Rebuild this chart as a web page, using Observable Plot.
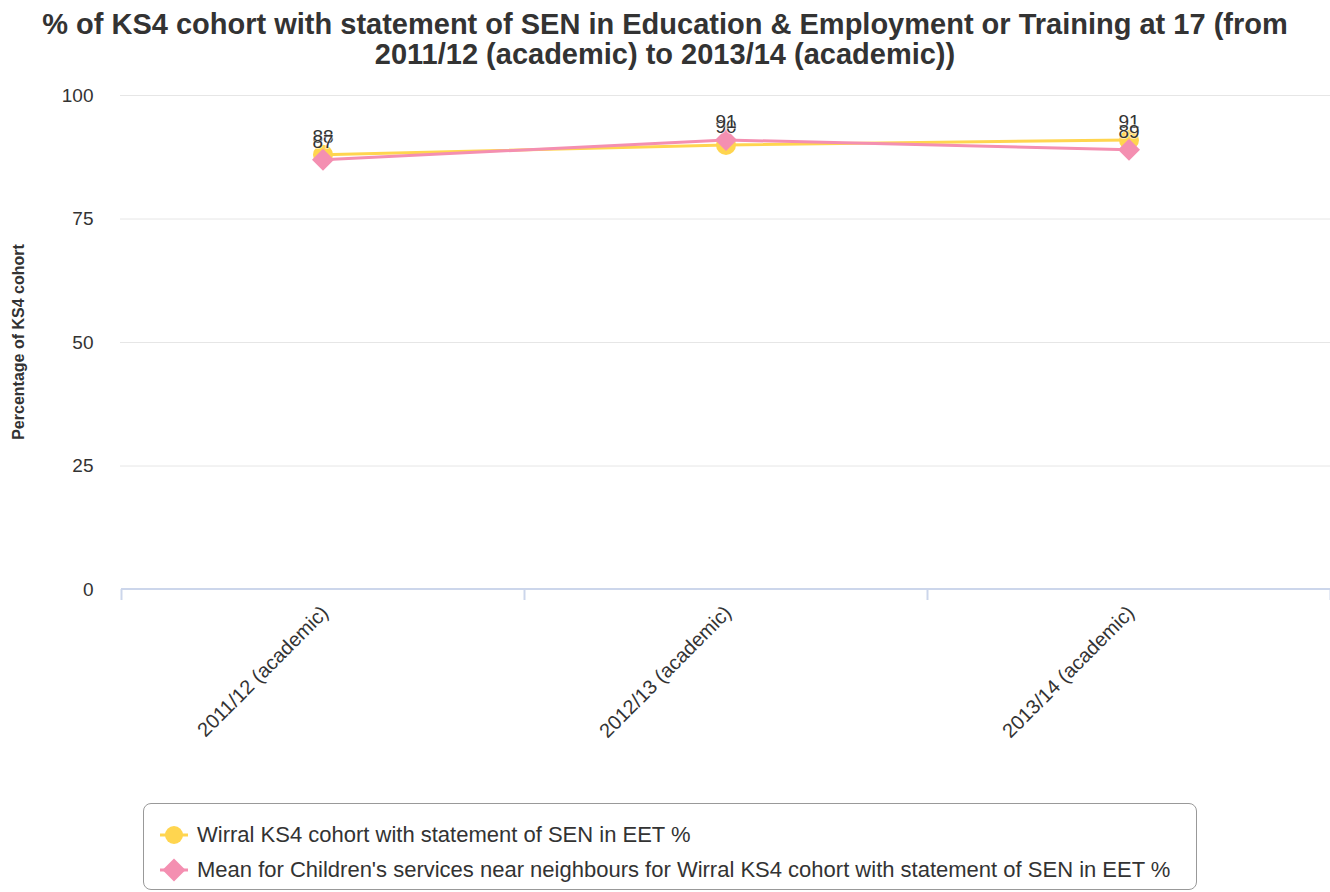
<!DOCTYPE html>
<html>
<head>
<meta charset="utf-8">
<script src="https://cdn.jsdelivr.net/npm/d3@7"></script>
<script src="https://cdn.jsdelivr.net/npm/@observablehq/plot@0.6"></script>
<style>
  body { margin: 0; background: #fff; font-family: "Liberation Sans", Arial, sans-serif; }
  #title { width: 1330px; text-align: center; font-weight: bold; font-size: 29px; line-height: 30px; color: #333; padding-top: 9px; height: 63px; box-sizing: content-box; }
  #legend { position: relative; margin-left: 143px; margin-top: 11px; width: 1052px; height: 85px; border: 1px solid #999; border-radius: 8px; font-size: 22px; color: #333; }
  .item { position: absolute; left: 16px; display: flex; align-items: center; height: 24px; white-space: nowrap; }
  .item span { margin-left: 9px; }
</style>
</head>
<body>
<div id="title">% of KS4 cohort with statement of SEN in Education &amp; Employment or Training at 17 (from<br>2011/12 (academic) to 2013/14 (academic))</div>
<div id="chart"></div>
<div id="legend"></div>
<script>
const categories = ["2011/12 (academic)", "2012/13 (academic)", "2013/14 (academic)"];
const wirral = [88, 90, 91];
const neighbours = [87, 91, 89];
const seriesNames = [
  "Wirral KS4 cohort with statement of SEN in EET %",
  "Mean for Children's services near neighbours for Wirral KS4 cohort with statement of SEN in EET %"
];
const yTicks = [0, 25, 50, 75, 100];
const colors = ["#FFD54F", "#F48FB1"];

const wData = categories.map((c, i) => ({cat: c, v: wirral[i]}));
const nData = categories.map((c, i) => ({cat: c, v: neighbours[i]}));

const diamond = {
  draw(ctx, size) {
    const h = Math.sqrt(size / 2);
    ctx.moveTo(0, -h); ctx.lineTo(h, 0); ctx.lineTo(0, h); ctx.lineTo(-h, 0); ctx.closePath();
  }
};

const chart = Plot.plot({
  width: 1330,
  height: 720,
  marginTop: 23,
  marginBottom: 203,
  marginLeft: 120,
  marginRight: 0,
  style: {fontFamily: "Liberation Sans, Arial, sans-serif", fontSize: "19px", color: "#333"},
  x: {type: "band", domain: categories, padding: 0, label: null, axis: null},
  y: {domain: [0, 100], ticks: yTicks, label: null, axis: null},
  marks: [
    Plot.ruleY(yTicks.filter(t => t > 0), {stroke: "#e6e6e6", strokeWidth: 1}),
    Plot.axisY({ticks: yTicks, tickSize: 0, tickPadding: 27, fontSize: 19, fill: "#333", label: null}),
    Plot.axisX({tickSize: 0, tickPadding: 20, tickRotate: -45, fontSize: 20, fill: "#333", label: null, textAnchor: "end", dx: 2}),
    Plot.line(wData, {x: "cat", y: "v", stroke: colors[0], strokeWidth: 3}),
    Plot.line(nData, {x: "cat", y: "v", stroke: colors[1], strokeWidth: 3}),
    Plot.dot(wData, {x: "cat", y: "v", r: 10, fill: colors[0], symbol: "circle"}),
    Plot.dot(nData, {x: "cat", y: "v", r: 8.8, fill: colors[1], symbol: diamond}),
    Plot.text(wData, {x: "cat", y: "v", text: d => String(d.v), dy: -18, fontSize: 19, fill: "#333", stroke: "white", strokeOpacity: 0.5, strokeWidth: 2}),
    Plot.text(nData, {x: "cat", y: "v", text: d => String(d.v), dy: -18, fontSize: 19, fill: "#333", stroke: "white", strokeOpacity: 0.5, strokeWidth: 2})
  ]
});

// bottom axis line and boundary ticks via the chart's scales
const xs = chart.scale("x"), ys = chart.scale("y");
const svg = d3.select(chart);
const bw = xs.bandwidth;
const y0 = ys.apply(0);
const g = svg.append("g");
const boundaries = categories.map(c => xs.apply(c)).concat([xs.apply(categories[categories.length - 1]) + bw]);
g.append("line").attr("x1", boundaries[0]).attr("x2", boundaries[boundaries.length - 1])
  .attr("y1", y0).attr("y2", y0).attr("stroke", "#ccd6eb").attr("stroke-width", 2);
boundaries.forEach(b => {
  g.append("line").attr("x1", b + 0.5).attr("x2", b + 0.5).attr("y1", y0).attr("y2", y0 + 11)
    .attr("stroke", "#ccd6eb").attr("stroke-width", 2);
});
// y axis title
svg.append("text").attr("transform", `translate(24,${(ys.apply(0) + ys.apply(100)) / 2}) rotate(-90)`)
  .attr("text-anchor", "middle").attr("font-weight", "bold").attr("font-size", 16).attr("fill", "#333")
  .text("Percentage of KS4 cohort");
g.lower();
document.getElementById("chart").appendChild(chart);

// legend
const legend = document.getElementById("legend");
seriesNames.forEach((name, i) => {
  const item = document.createElement("div");
  item.className = "item";
  item.style.top = (i === 0 ? 19 : 54) + "px";
  const sym = i === 0
    ? `<circle cx="14" cy="12" r="9" fill="${colors[0]}"/>`
    : `<path d="M14,0.5 L25.5,12 L14,23.5 L2.5,12 Z" fill="${colors[1]}"/>`;
  item.innerHTML = `<svg width="28" height="24"><line x1="0" x2="28" y1="12" y2="12" stroke="${colors[i]}" stroke-width="3"/>${sym}</svg><span>${name}</span>`;
  legend.appendChild(item);
});
</script>
</body>
</html>
